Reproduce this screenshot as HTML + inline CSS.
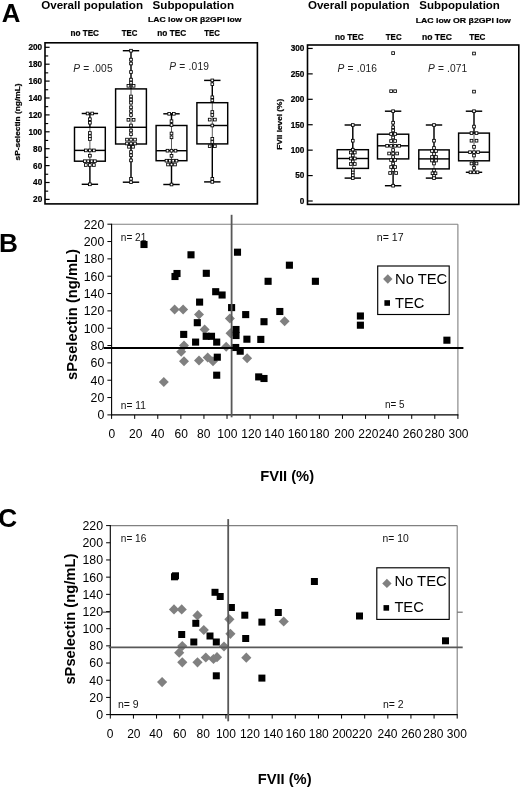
<!DOCTYPE html>
<html lang="en"><head><meta charset="utf-8"><title>Figure: sP-selectin and FVII levels</title>
<style>html,body{margin:0;padding:0;background:#fff}svg{display:block}text{font-family:'Liberation Sans', Arial, Helvetica, sans-serif}</style></head><body>
<svg width="520" height="788" viewBox="0 0 520 788">
<rect width="520" height="788" fill="#fff"/>
<text x="1.70" y="22.40" font-size="25.8" text-anchor="start" fill="#000" font-weight="bold">A</text>
<rect x="45.00" y="42.80" width="212.40" height="161.10" fill="none" stroke="#000" stroke-width="1.6"/>
<line x1="45.00" y1="199.40" x2="49.60" y2="199.40" stroke="#000" stroke-width="1.2" stroke-linecap="butt"/>
<text x="42.20" y="202.30" font-size="8.2" text-anchor="end" fill="#000" font-weight="bold" stroke="#000" stroke-width="0.2">20</text>
<line x1="45.00" y1="182.50" x2="49.60" y2="182.50" stroke="#000" stroke-width="1.2" stroke-linecap="butt"/>
<text x="42.20" y="185.40" font-size="8.2" text-anchor="end" fill="#000" font-weight="bold" stroke="#000" stroke-width="0.2">40</text>
<line x1="45.00" y1="165.60" x2="49.60" y2="165.60" stroke="#000" stroke-width="1.2" stroke-linecap="butt"/>
<text x="42.20" y="168.50" font-size="8.2" text-anchor="end" fill="#000" font-weight="bold" stroke="#000" stroke-width="0.2">60</text>
<line x1="45.00" y1="148.70" x2="49.60" y2="148.70" stroke="#000" stroke-width="1.2" stroke-linecap="butt"/>
<text x="42.20" y="151.60" font-size="8.2" text-anchor="end" fill="#000" font-weight="bold" stroke="#000" stroke-width="0.2">80</text>
<line x1="45.00" y1="131.80" x2="49.60" y2="131.80" stroke="#000" stroke-width="1.2" stroke-linecap="butt"/>
<text x="42.20" y="134.70" font-size="8.2" text-anchor="end" fill="#000" font-weight="bold" stroke="#000" stroke-width="0.2">100</text>
<line x1="45.00" y1="114.90" x2="49.60" y2="114.90" stroke="#000" stroke-width="1.2" stroke-linecap="butt"/>
<text x="42.20" y="117.80" font-size="8.2" text-anchor="end" fill="#000" font-weight="bold" stroke="#000" stroke-width="0.2">120</text>
<line x1="45.00" y1="98.00" x2="49.60" y2="98.00" stroke="#000" stroke-width="1.2" stroke-linecap="butt"/>
<text x="42.20" y="100.90" font-size="8.2" text-anchor="end" fill="#000" font-weight="bold" stroke="#000" stroke-width="0.2">140</text>
<line x1="45.00" y1="81.10" x2="49.60" y2="81.10" stroke="#000" stroke-width="1.2" stroke-linecap="butt"/>
<text x="42.20" y="84.00" font-size="8.2" text-anchor="end" fill="#000" font-weight="bold" stroke="#000" stroke-width="0.2">160</text>
<line x1="45.00" y1="64.20" x2="49.60" y2="64.20" stroke="#000" stroke-width="1.2" stroke-linecap="butt"/>
<text x="42.20" y="67.10" font-size="8.2" text-anchor="end" fill="#000" font-weight="bold" stroke="#000" stroke-width="0.2">180</text>
<line x1="45.00" y1="47.30" x2="49.60" y2="47.30" stroke="#000" stroke-width="1.2" stroke-linecap="butt"/>
<text x="42.20" y="50.20" font-size="8.2" text-anchor="end" fill="#000" font-weight="bold" stroke="#000" stroke-width="0.2">200</text>
<line x1="45.00" y1="191.15" x2="48.20" y2="191.15" stroke="#000" stroke-width="1.15" stroke-linecap="butt"/>
<line x1="45.00" y1="174.25" x2="48.20" y2="174.25" stroke="#000" stroke-width="1.15" stroke-linecap="butt"/>
<line x1="45.00" y1="157.35" x2="48.20" y2="157.35" stroke="#000" stroke-width="1.15" stroke-linecap="butt"/>
<line x1="45.00" y1="140.45" x2="48.20" y2="140.45" stroke="#000" stroke-width="1.15" stroke-linecap="butt"/>
<line x1="45.00" y1="123.55" x2="48.20" y2="123.55" stroke="#000" stroke-width="1.15" stroke-linecap="butt"/>
<line x1="45.00" y1="106.65" x2="48.20" y2="106.65" stroke="#000" stroke-width="1.15" stroke-linecap="butt"/>
<line x1="45.00" y1="89.75" x2="48.20" y2="89.75" stroke="#000" stroke-width="1.15" stroke-linecap="butt"/>
<line x1="45.00" y1="72.85" x2="48.20" y2="72.85" stroke="#000" stroke-width="1.15" stroke-linecap="butt"/>
<line x1="45.00" y1="55.95" x2="48.20" y2="55.95" stroke="#000" stroke-width="1.15" stroke-linecap="butt"/>
<text x="20.20" y="160.40" font-size="7.6" text-anchor="start" fill="#000" font-weight="bold" textLength="77.00" lengthAdjust="spacingAndGlyphs" transform="rotate(-90 20.20 160.40)" stroke="#000" stroke-width="0.22">sP-selectin (ng/mL)</text>
<text x="41.20" y="9.10" font-size="11.3" text-anchor="start" fill="#000" font-weight="bold" textLength="101.80" lengthAdjust="spacingAndGlyphs">Overall population</text>
<text x="152.50" y="9.10" font-size="11.3" text-anchor="start" fill="#000" font-weight="bold" textLength="81.50" lengthAdjust="spacingAndGlyphs">Subpopulation</text>
<text x="148.10" y="21.60" font-size="8" text-anchor="start" fill="#000" font-weight="bold" textLength="93.40" lengthAdjust="spacingAndGlyphs" stroke="#000" stroke-width="0.22">LAC low OR β2GPI  low</text>
<text x="70.40" y="36.00" font-size="8.7" text-anchor="start" fill="#000" font-weight="bold" textLength="28.60" lengthAdjust="spacingAndGlyphs" stroke="#000" stroke-width="0.22">no TEC</text>
<text x="121.80" y="36.00" font-size="8.7" text-anchor="start" fill="#000" font-weight="bold" textLength="15.60" lengthAdjust="spacingAndGlyphs" stroke="#000" stroke-width="0.22">TEC</text>
<text x="157.30" y="36.00" font-size="8.7" text-anchor="start" fill="#000" font-weight="bold" textLength="28.90" lengthAdjust="spacingAndGlyphs" stroke="#000" stroke-width="0.22">no TEC</text>
<text x="204.20" y="36.00" font-size="8.7" text-anchor="start" fill="#000" font-weight="bold" textLength="15.60" lengthAdjust="spacingAndGlyphs" stroke="#000" stroke-width="0.22">TEC</text>
<text x="73.2" y="71.6" font-size="10.2" fill="#222" textLength="39.4" lengthAdjust="spacing"><tspan font-style="italic">P</tspan> = .005</text>
<text x="169.2" y="69.6" font-size="10.2" fill="#222" textLength="39.8" lengthAdjust="spacing"><tspan font-style="italic">P</tspan> = .019</text>
<line x1="89.90" y1="113.50" x2="89.90" y2="127.30" stroke="#000" stroke-width="1.45" stroke-linecap="butt"/>
<line x1="89.90" y1="161.20" x2="89.90" y2="184.30" stroke="#000" stroke-width="1.45" stroke-linecap="butt"/>
<line x1="81.70" y1="113.50" x2="98.10" y2="113.50" stroke="#000" stroke-width="1.45" stroke-linecap="butt"/>
<line x1="81.70" y1="184.30" x2="98.10" y2="184.30" stroke="#000" stroke-width="1.45" stroke-linecap="butt"/>
<line x1="89.90" y1="127.30" x2="89.90" y2="161.20" stroke="#333" stroke-width="0.8" stroke-linecap="butt"/>
<rect x="74.50" y="127.30" width="30.80" height="33.90" fill="none" stroke="#000" stroke-width="1.45"/>
<line x1="74.50" y1="150.40" x2="105.30" y2="150.40" stroke="#000" stroke-width="1.45" stroke-linecap="butt"/>
<line x1="131.00" y1="50.70" x2="131.00" y2="88.90" stroke="#000" stroke-width="1.45" stroke-linecap="butt"/>
<line x1="131.00" y1="144.00" x2="131.00" y2="182.20" stroke="#000" stroke-width="1.45" stroke-linecap="butt"/>
<line x1="122.80" y1="50.70" x2="139.20" y2="50.70" stroke="#000" stroke-width="1.45" stroke-linecap="butt"/>
<line x1="122.80" y1="182.20" x2="139.20" y2="182.20" stroke="#000" stroke-width="1.45" stroke-linecap="butt"/>
<line x1="131.00" y1="88.90" x2="131.00" y2="144.00" stroke="#333" stroke-width="0.8" stroke-linecap="butt"/>
<rect x="115.60" y="88.90" width="30.80" height="55.10" fill="none" stroke="#000" stroke-width="1.45"/>
<line x1="115.60" y1="127.30" x2="146.40" y2="127.30" stroke="#000" stroke-width="1.45" stroke-linecap="butt"/>
<line x1="171.50" y1="113.80" x2="171.50" y2="125.50" stroke="#000" stroke-width="1.45" stroke-linecap="butt"/>
<line x1="171.50" y1="160.70" x2="171.50" y2="184.50" stroke="#000" stroke-width="1.45" stroke-linecap="butt"/>
<line x1="163.30" y1="113.80" x2="179.70" y2="113.80" stroke="#000" stroke-width="1.45" stroke-linecap="butt"/>
<line x1="163.30" y1="184.50" x2="179.70" y2="184.50" stroke="#000" stroke-width="1.45" stroke-linecap="butt"/>
<line x1="171.50" y1="125.50" x2="171.50" y2="160.70" stroke="#333" stroke-width="0.8" stroke-linecap="butt"/>
<rect x="156.10" y="125.50" width="30.80" height="35.20" fill="none" stroke="#000" stroke-width="1.45"/>
<line x1="156.10" y1="150.70" x2="186.90" y2="150.70" stroke="#000" stroke-width="1.45" stroke-linecap="butt"/>
<line x1="212.30" y1="80.40" x2="212.30" y2="102.70" stroke="#000" stroke-width="1.45" stroke-linecap="butt"/>
<line x1="212.30" y1="143.90" x2="212.30" y2="181.90" stroke="#000" stroke-width="1.45" stroke-linecap="butt"/>
<line x1="204.10" y1="80.40" x2="220.50" y2="80.40" stroke="#000" stroke-width="1.45" stroke-linecap="butt"/>
<line x1="204.10" y1="181.90" x2="220.50" y2="181.90" stroke="#000" stroke-width="1.45" stroke-linecap="butt"/>
<line x1="212.30" y1="102.70" x2="212.30" y2="143.90" stroke="#333" stroke-width="0.8" stroke-linecap="butt"/>
<rect x="196.90" y="102.70" width="30.80" height="41.20" fill="none" stroke="#000" stroke-width="1.45"/>
<line x1="196.90" y1="125.50" x2="227.70" y2="125.50" stroke="#000" stroke-width="1.45" stroke-linecap="butt"/>
<rect x="86.25" y="112.15" width="2.70" height="2.70" fill="#fff" stroke="#000" stroke-width="0.85"/>
<rect x="90.85" y="112.15" width="2.70" height="2.70" fill="#fff" stroke="#000" stroke-width="0.85"/>
<rect x="88.55" y="117.85" width="2.70" height="2.70" fill="#fff" stroke="#000" stroke-width="0.85"/>
<rect x="88.55" y="121.35" width="2.70" height="2.70" fill="#fff" stroke="#000" stroke-width="0.85"/>
<rect x="88.55" y="131.65" width="2.70" height="2.70" fill="#fff" stroke="#000" stroke-width="0.85"/>
<rect x="88.55" y="134.95" width="2.70" height="2.70" fill="#fff" stroke="#000" stroke-width="0.85"/>
<rect x="88.55" y="137.65" width="2.70" height="2.70" fill="#fff" stroke="#000" stroke-width="0.85"/>
<rect x="84.55" y="149.05" width="2.70" height="2.70" fill="#fff" stroke="#000" stroke-width="0.85"/>
<rect x="88.55" y="149.05" width="2.70" height="2.70" fill="#fff" stroke="#000" stroke-width="0.85"/>
<rect x="92.55" y="149.05" width="2.70" height="2.70" fill="#fff" stroke="#000" stroke-width="0.85"/>
<rect x="88.55" y="154.35" width="2.70" height="2.70" fill="#fff" stroke="#000" stroke-width="0.85"/>
<rect x="83.55" y="159.85" width="2.70" height="2.70" fill="#fff" stroke="#000" stroke-width="0.85"/>
<rect x="86.85" y="159.85" width="2.70" height="2.70" fill="#fff" stroke="#000" stroke-width="0.85"/>
<rect x="90.25" y="159.85" width="2.70" height="2.70" fill="#fff" stroke="#000" stroke-width="0.85"/>
<rect x="93.55" y="159.85" width="2.70" height="2.70" fill="#fff" stroke="#000" stroke-width="0.85"/>
<rect x="84.55" y="163.65" width="2.70" height="2.70" fill="#fff" stroke="#000" stroke-width="0.85"/>
<rect x="88.55" y="163.65" width="2.70" height="2.70" fill="#fff" stroke="#000" stroke-width="0.85"/>
<rect x="92.55" y="163.65" width="2.70" height="2.70" fill="#fff" stroke="#000" stroke-width="0.85"/>
<rect x="88.55" y="182.95" width="2.70" height="2.70" fill="#fff" stroke="#000" stroke-width="0.85"/>
<rect x="129.65" y="49.35" width="2.70" height="2.70" fill="#fff" stroke="#000" stroke-width="0.85"/>
<rect x="129.65" y="58.25" width="2.70" height="2.70" fill="#fff" stroke="#000" stroke-width="0.85"/>
<rect x="129.65" y="62.15" width="2.70" height="2.70" fill="#fff" stroke="#000" stroke-width="0.85"/>
<rect x="129.65" y="70.65" width="2.70" height="2.70" fill="#fff" stroke="#000" stroke-width="0.85"/>
<rect x="129.65" y="78.25" width="2.70" height="2.70" fill="#fff" stroke="#000" stroke-width="0.85"/>
<rect x="129.65" y="81.35" width="2.70" height="2.70" fill="#fff" stroke="#000" stroke-width="0.85"/>
<rect x="127.05" y="84.45" width="2.70" height="2.70" fill="#fff" stroke="#000" stroke-width="0.85"/>
<rect x="132.25" y="84.45" width="2.70" height="2.70" fill="#fff" stroke="#000" stroke-width="0.85"/>
<rect x="129.65" y="95.15" width="2.70" height="2.70" fill="#fff" stroke="#000" stroke-width="0.85"/>
<rect x="129.65" y="98.25" width="2.70" height="2.70" fill="#fff" stroke="#000" stroke-width="0.85"/>
<rect x="129.65" y="101.35" width="2.70" height="2.70" fill="#fff" stroke="#000" stroke-width="0.85"/>
<rect x="129.65" y="105.95" width="2.70" height="2.70" fill="#fff" stroke="#000" stroke-width="0.85"/>
<rect x="129.65" y="109.85" width="2.70" height="2.70" fill="#fff" stroke="#000" stroke-width="0.85"/>
<rect x="129.65" y="113.65" width="2.70" height="2.70" fill="#fff" stroke="#000" stroke-width="0.85"/>
<rect x="127.05" y="118.45" width="2.70" height="2.70" fill="#fff" stroke="#000" stroke-width="0.85"/>
<rect x="132.25" y="118.45" width="2.70" height="2.70" fill="#fff" stroke="#000" stroke-width="0.85"/>
<rect x="129.65" y="124.15" width="2.70" height="2.70" fill="#fff" stroke="#000" stroke-width="0.85"/>
<rect x="129.65" y="129.05" width="2.70" height="2.70" fill="#fff" stroke="#000" stroke-width="0.85"/>
<rect x="129.65" y="132.85" width="2.70" height="2.70" fill="#fff" stroke="#000" stroke-width="0.85"/>
<rect x="125.65" y="138.25" width="2.70" height="2.70" fill="#fff" stroke="#000" stroke-width="0.85"/>
<rect x="129.65" y="138.25" width="2.70" height="2.70" fill="#fff" stroke="#000" stroke-width="0.85"/>
<rect x="133.65" y="138.25" width="2.70" height="2.70" fill="#fff" stroke="#000" stroke-width="0.85"/>
<rect x="125.65" y="142.15" width="2.70" height="2.70" fill="#fff" stroke="#000" stroke-width="0.85"/>
<rect x="129.65" y="142.15" width="2.70" height="2.70" fill="#fff" stroke="#000" stroke-width="0.85"/>
<rect x="133.65" y="142.15" width="2.70" height="2.70" fill="#fff" stroke="#000" stroke-width="0.85"/>
<rect x="127.65" y="145.45" width="2.70" height="2.70" fill="#fff" stroke="#000" stroke-width="0.85"/>
<rect x="131.65" y="145.45" width="2.70" height="2.70" fill="#fff" stroke="#000" stroke-width="0.85"/>
<rect x="129.65" y="150.65" width="2.70" height="2.70" fill="#fff" stroke="#000" stroke-width="0.85"/>
<rect x="129.65" y="153.95" width="2.70" height="2.70" fill="#fff" stroke="#000" stroke-width="0.85"/>
<rect x="129.65" y="159.05" width="2.70" height="2.70" fill="#fff" stroke="#000" stroke-width="0.85"/>
<rect x="129.65" y="177.45" width="2.70" height="2.70" fill="#fff" stroke="#000" stroke-width="0.85"/>
<rect x="129.65" y="180.85" width="2.70" height="2.70" fill="#fff" stroke="#000" stroke-width="0.85"/>
<rect x="167.85" y="112.45" width="2.70" height="2.70" fill="#fff" stroke="#000" stroke-width="0.85"/>
<rect x="172.45" y="112.45" width="2.70" height="2.70" fill="#fff" stroke="#000" stroke-width="0.85"/>
<rect x="170.15" y="119.85" width="2.70" height="2.70" fill="#fff" stroke="#000" stroke-width="0.85"/>
<rect x="170.15" y="123.65" width="2.70" height="2.70" fill="#fff" stroke="#000" stroke-width="0.85"/>
<rect x="170.15" y="132.15" width="2.70" height="2.70" fill="#fff" stroke="#000" stroke-width="0.85"/>
<rect x="170.15" y="135.95" width="2.70" height="2.70" fill="#fff" stroke="#000" stroke-width="0.85"/>
<rect x="166.15" y="149.35" width="2.70" height="2.70" fill="#fff" stroke="#000" stroke-width="0.85"/>
<rect x="170.15" y="149.35" width="2.70" height="2.70" fill="#fff" stroke="#000" stroke-width="0.85"/>
<rect x="174.15" y="149.35" width="2.70" height="2.70" fill="#fff" stroke="#000" stroke-width="0.85"/>
<rect x="170.15" y="154.45" width="2.70" height="2.70" fill="#fff" stroke="#000" stroke-width="0.85"/>
<rect x="165.15" y="159.35" width="2.70" height="2.70" fill="#fff" stroke="#000" stroke-width="0.85"/>
<rect x="168.45" y="159.35" width="2.70" height="2.70" fill="#fff" stroke="#000" stroke-width="0.85"/>
<rect x="171.85" y="159.35" width="2.70" height="2.70" fill="#fff" stroke="#000" stroke-width="0.85"/>
<rect x="175.15" y="159.35" width="2.70" height="2.70" fill="#fff" stroke="#000" stroke-width="0.85"/>
<rect x="166.65" y="163.15" width="2.70" height="2.70" fill="#fff" stroke="#000" stroke-width="0.85"/>
<rect x="170.15" y="163.15" width="2.70" height="2.70" fill="#fff" stroke="#000" stroke-width="0.85"/>
<rect x="173.65" y="163.15" width="2.70" height="2.70" fill="#fff" stroke="#000" stroke-width="0.85"/>
<rect x="170.15" y="183.15" width="2.70" height="2.70" fill="#fff" stroke="#000" stroke-width="0.85"/>
<rect x="210.95" y="79.05" width="2.70" height="2.70" fill="#fff" stroke="#000" stroke-width="0.85"/>
<rect x="210.95" y="82.85" width="2.70" height="2.70" fill="#fff" stroke="#000" stroke-width="0.85"/>
<rect x="210.95" y="95.95" width="2.70" height="2.70" fill="#fff" stroke="#000" stroke-width="0.85"/>
<rect x="210.95" y="99.05" width="2.70" height="2.70" fill="#fff" stroke="#000" stroke-width="0.85"/>
<rect x="210.95" y="110.65" width="2.70" height="2.70" fill="#fff" stroke="#000" stroke-width="0.85"/>
<rect x="210.95" y="113.65" width="2.70" height="2.70" fill="#fff" stroke="#000" stroke-width="0.85"/>
<rect x="208.35" y="118.25" width="2.70" height="2.70" fill="#fff" stroke="#000" stroke-width="0.85"/>
<rect x="213.55" y="118.25" width="2.70" height="2.70" fill="#fff" stroke="#000" stroke-width="0.85"/>
<rect x="210.95" y="124.15" width="2.70" height="2.70" fill="#fff" stroke="#000" stroke-width="0.85"/>
<rect x="210.95" y="137.45" width="2.70" height="2.70" fill="#fff" stroke="#000" stroke-width="0.85"/>
<rect x="210.95" y="140.65" width="2.70" height="2.70" fill="#fff" stroke="#000" stroke-width="0.85"/>
<rect x="208.35" y="144.85" width="2.70" height="2.70" fill="#fff" stroke="#000" stroke-width="0.85"/>
<rect x="213.55" y="144.85" width="2.70" height="2.70" fill="#fff" stroke="#000" stroke-width="0.85"/>
<rect x="210.95" y="177.45" width="2.70" height="2.70" fill="#fff" stroke="#000" stroke-width="0.85"/>
<rect x="210.95" y="180.55" width="2.70" height="2.70" fill="#fff" stroke="#000" stroke-width="0.85"/>
<rect x="307.50" y="45.00" width="211.30" height="159.40" fill="none" stroke="#000" stroke-width="1.6"/>
<line x1="307.50" y1="201.00" x2="312.70" y2="201.00" stroke="#000" stroke-width="1.2" stroke-linecap="butt"/>
<text x="304.40" y="203.90" font-size="8.2" text-anchor="end" fill="#000" font-weight="bold" stroke="#000" stroke-width="0.2">0</text>
<line x1="307.50" y1="175.57" x2="312.70" y2="175.57" stroke="#000" stroke-width="1.2" stroke-linecap="butt"/>
<text x="304.40" y="178.47" font-size="8.2" text-anchor="end" fill="#000" font-weight="bold" stroke="#000" stroke-width="0.2">50</text>
<line x1="307.50" y1="150.15" x2="312.70" y2="150.15" stroke="#000" stroke-width="1.2" stroke-linecap="butt"/>
<text x="304.40" y="153.05" font-size="8.2" text-anchor="end" fill="#000" font-weight="bold" stroke="#000" stroke-width="0.2">100</text>
<line x1="307.50" y1="124.73" x2="312.70" y2="124.73" stroke="#000" stroke-width="1.2" stroke-linecap="butt"/>
<text x="304.40" y="127.63" font-size="8.2" text-anchor="end" fill="#000" font-weight="bold" stroke="#000" stroke-width="0.2">150</text>
<line x1="307.50" y1="99.30" x2="312.70" y2="99.30" stroke="#000" stroke-width="1.2" stroke-linecap="butt"/>
<text x="304.40" y="102.20" font-size="8.2" text-anchor="end" fill="#000" font-weight="bold" stroke="#000" stroke-width="0.2">200</text>
<line x1="307.50" y1="73.88" x2="312.70" y2="73.88" stroke="#000" stroke-width="1.2" stroke-linecap="butt"/>
<text x="304.40" y="76.78" font-size="8.2" text-anchor="end" fill="#000" font-weight="bold" stroke="#000" stroke-width="0.2">250</text>
<line x1="307.50" y1="48.45" x2="312.70" y2="48.45" stroke="#000" stroke-width="1.2" stroke-linecap="butt"/>
<text x="304.40" y="51.35" font-size="8.2" text-anchor="end" fill="#000" font-weight="bold" stroke="#000" stroke-width="0.2">300</text>
<text x="281.70" y="149.80" font-size="7.8" text-anchor="start" fill="#000" font-weight="bold" textLength="51.00" lengthAdjust="spacingAndGlyphs" transform="rotate(-90 281.70 149.80)" stroke="#000" stroke-width="0.22">FVII level (%)</text>
<text x="307.90" y="8.60" font-size="11.3" text-anchor="start" fill="#000" font-weight="bold" textLength="101.60" lengthAdjust="spacingAndGlyphs">Overall population</text>
<text x="419.30" y="8.60" font-size="11.3" text-anchor="start" fill="#000" font-weight="bold" textLength="80.60" lengthAdjust="spacingAndGlyphs">Subpopulation</text>
<text x="415.70" y="22.70" font-size="8" text-anchor="start" fill="#000" font-weight="bold" textLength="95.10" lengthAdjust="spacingAndGlyphs" stroke="#000" stroke-width="0.22">LAC low OR β2GPI  low</text>
<text x="335.00" y="39.80" font-size="8.7" text-anchor="start" fill="#000" font-weight="bold" textLength="28.80" lengthAdjust="spacingAndGlyphs" stroke="#000" stroke-width="0.22">no TEC</text>
<text x="385.80" y="39.80" font-size="8.7" text-anchor="start" fill="#000" font-weight="bold" textLength="15.80" lengthAdjust="spacingAndGlyphs" stroke="#000" stroke-width="0.22">TEC</text>
<text x="421.90" y="39.80" font-size="8.7" text-anchor="start" fill="#000" font-weight="bold" textLength="30.00" lengthAdjust="spacingAndGlyphs" stroke="#000" stroke-width="0.22">no TEC</text>
<text x="469.20" y="39.80" font-size="8.7" text-anchor="start" fill="#000" font-weight="bold" textLength="16.20" lengthAdjust="spacingAndGlyphs" stroke="#000" stroke-width="0.22">TEC</text>
<text x="337.5" y="71.6" font-size="10.2" fill="#222" textLength="39.5" lengthAdjust="spacing"><tspan font-style="italic">P</tspan> = .016</text>
<text x="428.0" y="71.6" font-size="10.2" fill="#222" textLength="39.2" lengthAdjust="spacing"><tspan font-style="italic">P</tspan> = .071</text>
<line x1="352.80" y1="125.00" x2="352.80" y2="149.70" stroke="#000" stroke-width="1.45" stroke-linecap="butt"/>
<line x1="352.80" y1="168.40" x2="352.80" y2="178.10" stroke="#000" stroke-width="1.45" stroke-linecap="butt"/>
<line x1="344.60" y1="125.00" x2="361.00" y2="125.00" stroke="#000" stroke-width="1.45" stroke-linecap="butt"/>
<line x1="344.60" y1="178.10" x2="361.00" y2="178.10" stroke="#000" stroke-width="1.45" stroke-linecap="butt"/>
<line x1="352.80" y1="149.70" x2="352.80" y2="168.40" stroke="#333" stroke-width="0.8" stroke-linecap="butt"/>
<rect x="337.20" y="149.70" width="31.20" height="18.70" fill="none" stroke="#000" stroke-width="1.45"/>
<line x1="337.20" y1="158.50" x2="368.40" y2="158.50" stroke="#000" stroke-width="1.45" stroke-linecap="butt"/>
<line x1="393.10" y1="111.20" x2="393.10" y2="134.20" stroke="#000" stroke-width="1.45" stroke-linecap="butt"/>
<line x1="393.10" y1="158.90" x2="393.10" y2="185.70" stroke="#000" stroke-width="1.45" stroke-linecap="butt"/>
<line x1="384.90" y1="111.20" x2="401.30" y2="111.20" stroke="#000" stroke-width="1.45" stroke-linecap="butt"/>
<line x1="384.90" y1="185.70" x2="401.30" y2="185.70" stroke="#000" stroke-width="1.45" stroke-linecap="butt"/>
<line x1="393.10" y1="134.20" x2="393.10" y2="158.90" stroke="#333" stroke-width="0.8" stroke-linecap="butt"/>
<rect x="377.50" y="134.20" width="31.20" height="24.70" fill="none" stroke="#000" stroke-width="1.45"/>
<line x1="377.50" y1="145.80" x2="408.70" y2="145.80" stroke="#000" stroke-width="1.45" stroke-linecap="butt"/>
<line x1="434.00" y1="125.00" x2="434.00" y2="149.90" stroke="#000" stroke-width="1.45" stroke-linecap="butt"/>
<line x1="434.00" y1="168.90" x2="434.00" y2="178.10" stroke="#000" stroke-width="1.45" stroke-linecap="butt"/>
<line x1="425.80" y1="125.00" x2="442.20" y2="125.00" stroke="#000" stroke-width="1.45" stroke-linecap="butt"/>
<line x1="425.80" y1="178.10" x2="442.20" y2="178.10" stroke="#000" stroke-width="1.45" stroke-linecap="butt"/>
<line x1="434.00" y1="149.90" x2="434.00" y2="168.90" stroke="#333" stroke-width="0.8" stroke-linecap="butt"/>
<rect x="418.80" y="149.90" width="30.40" height="19.00" fill="none" stroke="#000" stroke-width="1.45"/>
<line x1="418.80" y1="158.90" x2="449.20" y2="158.90" stroke="#000" stroke-width="1.45" stroke-linecap="butt"/>
<line x1="474.00" y1="111.20" x2="474.00" y2="133.10" stroke="#000" stroke-width="1.45" stroke-linecap="butt"/>
<line x1="474.00" y1="160.80" x2="474.00" y2="172.30" stroke="#000" stroke-width="1.45" stroke-linecap="butt"/>
<line x1="465.80" y1="111.20" x2="482.20" y2="111.20" stroke="#000" stroke-width="1.45" stroke-linecap="butt"/>
<line x1="465.80" y1="172.30" x2="482.20" y2="172.30" stroke="#000" stroke-width="1.45" stroke-linecap="butt"/>
<line x1="474.00" y1="133.10" x2="474.00" y2="160.80" stroke="#333" stroke-width="0.8" stroke-linecap="butt"/>
<rect x="458.60" y="133.10" width="30.80" height="27.70" fill="none" stroke="#000" stroke-width="1.45"/>
<line x1="458.60" y1="152.20" x2="489.40" y2="152.20" stroke="#000" stroke-width="1.45" stroke-linecap="butt"/>
<rect x="351.45" y="123.65" width="2.70" height="2.70" fill="#fff" stroke="#000" stroke-width="0.85"/>
<rect x="351.45" y="139.35" width="2.70" height="2.70" fill="#fff" stroke="#000" stroke-width="0.85"/>
<rect x="351.45" y="148.35" width="2.70" height="2.70" fill="#fff" stroke="#000" stroke-width="0.85"/>
<rect x="349.45" y="151.15" width="2.70" height="2.70" fill="#fff" stroke="#000" stroke-width="0.85"/>
<rect x="353.45" y="151.15" width="2.70" height="2.70" fill="#fff" stroke="#000" stroke-width="0.85"/>
<rect x="351.45" y="154.15" width="2.70" height="2.70" fill="#fff" stroke="#000" stroke-width="0.85"/>
<rect x="349.45" y="157.15" width="2.70" height="2.70" fill="#fff" stroke="#000" stroke-width="0.85"/>
<rect x="353.45" y="157.15" width="2.70" height="2.70" fill="#fff" stroke="#000" stroke-width="0.85"/>
<rect x="351.45" y="160.15" width="2.70" height="2.70" fill="#fff" stroke="#000" stroke-width="0.85"/>
<rect x="349.45" y="162.65" width="2.70" height="2.70" fill="#fff" stroke="#000" stroke-width="0.85"/>
<rect x="353.45" y="162.65" width="2.70" height="2.70" fill="#fff" stroke="#000" stroke-width="0.85"/>
<rect x="351.45" y="168.65" width="2.70" height="2.70" fill="#fff" stroke="#000" stroke-width="0.85"/>
<rect x="351.45" y="171.15" width="2.70" height="2.70" fill="#fff" stroke="#000" stroke-width="0.85"/>
<rect x="351.45" y="173.95" width="2.70" height="2.70" fill="#fff" stroke="#000" stroke-width="0.85"/>
<rect x="351.45" y="176.75" width="2.70" height="2.70" fill="#fff" stroke="#000" stroke-width="0.85"/>
<rect x="391.75" y="51.75" width="2.70" height="2.70" fill="#fff" stroke="#000" stroke-width="0.85"/>
<rect x="389.75" y="89.85" width="2.70" height="2.70" fill="#fff" stroke="#000" stroke-width="0.85"/>
<rect x="393.75" y="89.85" width="2.70" height="2.70" fill="#fff" stroke="#000" stroke-width="0.85"/>
<rect x="391.75" y="109.85" width="2.70" height="2.70" fill="#fff" stroke="#000" stroke-width="0.85"/>
<rect x="391.75" y="121.35" width="2.70" height="2.70" fill="#fff" stroke="#000" stroke-width="0.85"/>
<rect x="391.75" y="125.95" width="2.70" height="2.70" fill="#fff" stroke="#000" stroke-width="0.85"/>
<rect x="391.75" y="129.15" width="2.70" height="2.70" fill="#fff" stroke="#000" stroke-width="0.85"/>
<rect x="389.75" y="132.65" width="2.70" height="2.70" fill="#fff" stroke="#000" stroke-width="0.85"/>
<rect x="393.75" y="132.65" width="2.70" height="2.70" fill="#fff" stroke="#000" stroke-width="0.85"/>
<rect x="391.75" y="136.15" width="2.70" height="2.70" fill="#fff" stroke="#000" stroke-width="0.85"/>
<rect x="389.75" y="139.65" width="2.70" height="2.70" fill="#fff" stroke="#000" stroke-width="0.85"/>
<rect x="393.75" y="139.65" width="2.70" height="2.70" fill="#fff" stroke="#000" stroke-width="0.85"/>
<rect x="385.75" y="144.45" width="2.70" height="2.70" fill="#fff" stroke="#000" stroke-width="0.85"/>
<rect x="389.75" y="144.45" width="2.70" height="2.70" fill="#fff" stroke="#000" stroke-width="0.85"/>
<rect x="393.75" y="144.45" width="2.70" height="2.70" fill="#fff" stroke="#000" stroke-width="0.85"/>
<rect x="397.75" y="144.45" width="2.70" height="2.70" fill="#fff" stroke="#000" stroke-width="0.85"/>
<rect x="391.75" y="148.65" width="2.70" height="2.70" fill="#fff" stroke="#000" stroke-width="0.85"/>
<rect x="387.75" y="152.15" width="2.70" height="2.70" fill="#fff" stroke="#000" stroke-width="0.85"/>
<rect x="391.75" y="152.15" width="2.70" height="2.70" fill="#fff" stroke="#000" stroke-width="0.85"/>
<rect x="395.75" y="152.15" width="2.70" height="2.70" fill="#fff" stroke="#000" stroke-width="0.85"/>
<rect x="391.75" y="155.65" width="2.70" height="2.70" fill="#fff" stroke="#000" stroke-width="0.85"/>
<rect x="389.75" y="158.65" width="2.70" height="2.70" fill="#fff" stroke="#000" stroke-width="0.85"/>
<rect x="393.75" y="158.65" width="2.70" height="2.70" fill="#fff" stroke="#000" stroke-width="0.85"/>
<rect x="391.75" y="162.15" width="2.70" height="2.70" fill="#fff" stroke="#000" stroke-width="0.85"/>
<rect x="389.75" y="165.65" width="2.70" height="2.70" fill="#fff" stroke="#000" stroke-width="0.85"/>
<rect x="393.75" y="165.65" width="2.70" height="2.70" fill="#fff" stroke="#000" stroke-width="0.85"/>
<rect x="391.75" y="168.65" width="2.70" height="2.70" fill="#fff" stroke="#000" stroke-width="0.85"/>
<rect x="388.75" y="171.65" width="2.70" height="2.70" fill="#fff" stroke="#000" stroke-width="0.85"/>
<rect x="394.75" y="171.65" width="2.70" height="2.70" fill="#fff" stroke="#000" stroke-width="0.85"/>
<rect x="391.75" y="184.35" width="2.70" height="2.70" fill="#fff" stroke="#000" stroke-width="0.85"/>
<rect x="432.65" y="123.65" width="2.70" height="2.70" fill="#fff" stroke="#000" stroke-width="0.85"/>
<rect x="432.65" y="139.35" width="2.70" height="2.70" fill="#fff" stroke="#000" stroke-width="0.85"/>
<rect x="432.65" y="146.65" width="2.70" height="2.70" fill="#fff" stroke="#000" stroke-width="0.85"/>
<rect x="430.65" y="149.65" width="2.70" height="2.70" fill="#fff" stroke="#000" stroke-width="0.85"/>
<rect x="434.65" y="149.65" width="2.70" height="2.70" fill="#fff" stroke="#000" stroke-width="0.85"/>
<rect x="432.65" y="152.65" width="2.70" height="2.70" fill="#fff" stroke="#000" stroke-width="0.85"/>
<rect x="430.65" y="155.65" width="2.70" height="2.70" fill="#fff" stroke="#000" stroke-width="0.85"/>
<rect x="434.65" y="155.65" width="2.70" height="2.70" fill="#fff" stroke="#000" stroke-width="0.85"/>
<rect x="430.65" y="159.15" width="2.70" height="2.70" fill="#fff" stroke="#000" stroke-width="0.85"/>
<rect x="434.65" y="159.15" width="2.70" height="2.70" fill="#fff" stroke="#000" stroke-width="0.85"/>
<rect x="432.65" y="162.15" width="2.70" height="2.70" fill="#fff" stroke="#000" stroke-width="0.85"/>
<rect x="432.65" y="169.15" width="2.70" height="2.70" fill="#fff" stroke="#000" stroke-width="0.85"/>
<rect x="431.15" y="171.95" width="2.70" height="2.70" fill="#fff" stroke="#000" stroke-width="0.85"/>
<rect x="434.15" y="171.95" width="2.70" height="2.70" fill="#fff" stroke="#000" stroke-width="0.85"/>
<rect x="432.65" y="174.65" width="2.70" height="2.70" fill="#fff" stroke="#000" stroke-width="0.85"/>
<rect x="432.65" y="176.75" width="2.70" height="2.70" fill="#fff" stroke="#000" stroke-width="0.85"/>
<rect x="472.65" y="52.15" width="2.70" height="2.70" fill="#fff" stroke="#000" stroke-width="0.85"/>
<rect x="472.65" y="90.25" width="2.70" height="2.70" fill="#fff" stroke="#000" stroke-width="0.85"/>
<rect x="472.65" y="109.85" width="2.70" height="2.70" fill="#fff" stroke="#000" stroke-width="0.85"/>
<rect x="472.65" y="125.25" width="2.70" height="2.70" fill="#fff" stroke="#000" stroke-width="0.85"/>
<rect x="470.15" y="131.75" width="2.70" height="2.70" fill="#fff" stroke="#000" stroke-width="0.85"/>
<rect x="475.15" y="131.75" width="2.70" height="2.70" fill="#fff" stroke="#000" stroke-width="0.85"/>
<rect x="470.15" y="139.35" width="2.70" height="2.70" fill="#fff" stroke="#000" stroke-width="0.85"/>
<rect x="475.15" y="139.35" width="2.70" height="2.70" fill="#fff" stroke="#000" stroke-width="0.85"/>
<rect x="472.65" y="145.55" width="2.70" height="2.70" fill="#fff" stroke="#000" stroke-width="0.85"/>
<rect x="468.65" y="150.85" width="2.70" height="2.70" fill="#fff" stroke="#000" stroke-width="0.85"/>
<rect x="472.65" y="150.85" width="2.70" height="2.70" fill="#fff" stroke="#000" stroke-width="0.85"/>
<rect x="476.65" y="150.85" width="2.70" height="2.70" fill="#fff" stroke="#000" stroke-width="0.85"/>
<rect x="472.65" y="154.15" width="2.70" height="2.70" fill="#fff" stroke="#000" stroke-width="0.85"/>
<rect x="470.15" y="162.15" width="2.70" height="2.70" fill="#fff" stroke="#000" stroke-width="0.85"/>
<rect x="475.15" y="162.15" width="2.70" height="2.70" fill="#fff" stroke="#000" stroke-width="0.85"/>
<rect x="472.65" y="166.35" width="2.70" height="2.70" fill="#fff" stroke="#000" stroke-width="0.85"/>
<rect x="469.15" y="170.95" width="2.70" height="2.70" fill="#fff" stroke="#000" stroke-width="0.85"/>
<rect x="472.65" y="170.95" width="2.70" height="2.70" fill="#fff" stroke="#000" stroke-width="0.85"/>
<rect x="476.15" y="170.95" width="2.70" height="2.70" fill="#fff" stroke="#000" stroke-width="0.85"/>
<text x="-1.10" y="251.90" font-size="26.2" text-anchor="start" fill="#000" font-weight="bold">B</text>
<path d="M174.60 304.40L179.60 309.40L174.60 314.40L169.60 309.40Z" fill="#808080"/>
<path d="M183.10 304.40L188.10 309.40L183.10 314.40L178.10 309.40Z" fill="#808080"/>
<path d="M199.00 309.60L204.00 314.60L199.00 319.60L194.00 314.60Z" fill="#808080"/>
<path d="M229.90 313.60L234.90 318.60L229.90 323.60L224.90 318.60Z" fill="#808080"/>
<path d="M204.60 324.40L209.60 329.40L204.60 334.40L199.60 329.40Z" fill="#808080"/>
<path d="M230.50 328.30L235.50 333.30L230.50 338.30L225.50 333.30Z" fill="#808080"/>
<path d="M184.00 340.60L189.00 345.60L184.00 350.60L179.00 345.60Z" fill="#808080"/>
<path d="M226.20 341.80L231.20 346.80L226.20 351.80L221.20 346.80Z" fill="#808080"/>
<path d="M181.20 346.80L186.20 351.80L181.20 356.80L176.20 351.80Z" fill="#808080"/>
<path d="M207.70 352.60L212.70 357.60L207.70 362.60L202.70 357.60Z" fill="#808080"/>
<path d="M199.00 355.50L204.00 360.50L199.00 365.50L194.00 360.50Z" fill="#808080"/>
<path d="M184.00 356.20L189.00 361.20L184.00 366.20L179.00 361.20Z" fill="#808080"/>
<path d="M213.00 356.20L218.00 361.20L213.00 366.20L208.00 361.20Z" fill="#808080"/>
<path d="M247.10 353.30L252.10 358.30L247.10 363.30L242.10 358.30Z" fill="#808080"/>
<path d="M163.80 376.90L168.80 381.90L163.80 386.90L158.80 381.90Z" fill="#808080"/>
<path d="M284.60 316.20L289.60 321.20L284.60 326.20L279.60 321.20Z" fill="#808080"/>
<rect x="140.45" y="240.95" width="7.10" height="7.10" fill="#000" stroke="none" stroke-width="1"/>
<rect x="187.45" y="251.25" width="7.10" height="7.10" fill="#000" stroke="none" stroke-width="1"/>
<rect x="173.45" y="269.95" width="7.10" height="7.10" fill="#000" stroke="none" stroke-width="1"/>
<rect x="171.45" y="272.95" width="7.10" height="7.10" fill="#000" stroke="none" stroke-width="1"/>
<rect x="202.75" y="269.75" width="7.10" height="7.10" fill="#000" stroke="none" stroke-width="1"/>
<rect x="212.15" y="288.15" width="7.10" height="7.10" fill="#000" stroke="none" stroke-width="1"/>
<rect x="218.55" y="291.45" width="7.10" height="7.10" fill="#000" stroke="none" stroke-width="1"/>
<rect x="233.95" y="248.65" width="7.10" height="7.10" fill="#000" stroke="none" stroke-width="1"/>
<rect x="196.05" y="298.55" width="7.10" height="7.10" fill="#000" stroke="none" stroke-width="1"/>
<rect x="228.05" y="304.05" width="7.10" height="7.10" fill="#000" stroke="none" stroke-width="1"/>
<rect x="242.15" y="311.05" width="7.10" height="7.10" fill="#000" stroke="none" stroke-width="1"/>
<rect x="193.75" y="319.15" width="7.10" height="7.10" fill="#000" stroke="none" stroke-width="1"/>
<rect x="232.45" y="325.95" width="7.10" height="7.10" fill="#000" stroke="none" stroke-width="1"/>
<rect x="232.45" y="331.95" width="7.10" height="7.10" fill="#000" stroke="none" stroke-width="1"/>
<rect x="180.15" y="330.85" width="7.10" height="7.10" fill="#000" stroke="none" stroke-width="1"/>
<rect x="202.65" y="332.75" width="7.10" height="7.10" fill="#000" stroke="none" stroke-width="1"/>
<rect x="207.95" y="332.75" width="7.10" height="7.10" fill="#000" stroke="none" stroke-width="1"/>
<rect x="192.05" y="338.55" width="7.10" height="7.10" fill="#000" stroke="none" stroke-width="1"/>
<rect x="213.15" y="338.55" width="7.10" height="7.10" fill="#000" stroke="none" stroke-width="1"/>
<rect x="243.35" y="335.65" width="7.10" height="7.10" fill="#000" stroke="none" stroke-width="1"/>
<rect x="232.15" y="343.95" width="7.10" height="7.10" fill="#000" stroke="none" stroke-width="1"/>
<rect x="236.65" y="347.65" width="7.10" height="7.10" fill="#000" stroke="none" stroke-width="1"/>
<rect x="213.75" y="353.65" width="7.10" height="7.10" fill="#000" stroke="none" stroke-width="1"/>
<rect x="213.15" y="371.65" width="7.10" height="7.10" fill="#000" stroke="none" stroke-width="1"/>
<rect x="285.85" y="261.65" width="7.10" height="7.10" fill="#000" stroke="none" stroke-width="1"/>
<rect x="264.55" y="277.75" width="7.10" height="7.10" fill="#000" stroke="none" stroke-width="1"/>
<rect x="311.85" y="277.75" width="7.10" height="7.10" fill="#000" stroke="none" stroke-width="1"/>
<rect x="276.25" y="307.95" width="7.10" height="7.10" fill="#000" stroke="none" stroke-width="1"/>
<rect x="260.45" y="318.15" width="7.10" height="7.10" fill="#000" stroke="none" stroke-width="1"/>
<rect x="257.25" y="335.85" width="7.10" height="7.10" fill="#000" stroke="none" stroke-width="1"/>
<rect x="255.15" y="373.35" width="7.10" height="7.10" fill="#000" stroke="none" stroke-width="1"/>
<rect x="260.45" y="374.95" width="7.10" height="7.10" fill="#000" stroke="none" stroke-width="1"/>
<rect x="356.85" y="312.45" width="7.10" height="7.10" fill="#000" stroke="none" stroke-width="1"/>
<rect x="356.85" y="321.65" width="7.10" height="7.10" fill="#000" stroke="none" stroke-width="1"/>
<rect x="443.35" y="336.65" width="7.10" height="7.10" fill="#000" stroke="none" stroke-width="1"/>
<line x1="111.60" y1="224.20" x2="457.90" y2="224.20" stroke="#808080" stroke-width="1.1" stroke-linecap="butt"/>
<line x1="457.90" y1="224.20" x2="457.90" y2="414.90" stroke="#808080" stroke-width="1.1" stroke-linecap="butt"/>
<line x1="111.60" y1="223.70" x2="111.60" y2="415.40" stroke="#000" stroke-width="1.1" stroke-linecap="butt"/>
<line x1="111.60" y1="414.90" x2="458.40" y2="414.90" stroke="#000" stroke-width="1.1" stroke-linecap="butt"/>
<line x1="111.60" y1="414.90" x2="111.60" y2="418.90" stroke="#000" stroke-width="1.0" stroke-linecap="butt"/>
<text x="111.80" y="437.80" font-size="12" text-anchor="middle" fill="#000">0</text>
<line x1="134.69" y1="414.90" x2="134.69" y2="418.90" stroke="#000" stroke-width="1.0" stroke-linecap="butt"/>
<text x="135.79" y="437.80" font-size="12" text-anchor="middle" fill="#000">20</text>
<line x1="157.77" y1="414.90" x2="157.77" y2="418.90" stroke="#000" stroke-width="1.0" stroke-linecap="butt"/>
<text x="157.77" y="437.80" font-size="12" text-anchor="middle" fill="#000">40</text>
<line x1="180.86" y1="414.90" x2="180.86" y2="418.90" stroke="#000" stroke-width="1.0" stroke-linecap="butt"/>
<text x="181.16" y="437.80" font-size="12" text-anchor="middle" fill="#000">60</text>
<line x1="203.95" y1="414.90" x2="203.95" y2="418.90" stroke="#000" stroke-width="1.0" stroke-linecap="butt"/>
<text x="203.65" y="437.80" font-size="12" text-anchor="middle" fill="#000">80</text>
<line x1="227.03" y1="414.90" x2="227.03" y2="418.90" stroke="#000" stroke-width="1.0" stroke-linecap="butt"/>
<text x="227.33" y="437.80" font-size="12" text-anchor="middle" fill="#000">100</text>
<line x1="250.12" y1="414.90" x2="250.12" y2="418.90" stroke="#000" stroke-width="1.0" stroke-linecap="butt"/>
<text x="251.32" y="437.80" font-size="12" text-anchor="middle" fill="#000">120</text>
<line x1="273.21" y1="414.90" x2="273.21" y2="418.90" stroke="#000" stroke-width="1.0" stroke-linecap="butt"/>
<text x="274.31" y="437.80" font-size="12" text-anchor="middle" fill="#000">140</text>
<line x1="296.29" y1="414.90" x2="296.29" y2="418.90" stroke="#000" stroke-width="1.0" stroke-linecap="butt"/>
<text x="297.69" y="437.80" font-size="12" text-anchor="middle" fill="#000">160</text>
<line x1="319.38" y1="414.90" x2="319.38" y2="418.90" stroke="#000" stroke-width="1.0" stroke-linecap="butt"/>
<text x="319.38" y="437.80" font-size="12" text-anchor="middle" fill="#000">180</text>
<line x1="342.47" y1="414.90" x2="342.47" y2="418.90" stroke="#000" stroke-width="1.0" stroke-linecap="butt"/>
<text x="344.37" y="437.80" font-size="12" text-anchor="middle" fill="#000">200</text>
<line x1="365.55" y1="414.90" x2="365.55" y2="418.90" stroke="#000" stroke-width="1.0" stroke-linecap="butt"/>
<text x="368.35" y="437.80" font-size="12" text-anchor="middle" fill="#000">220</text>
<line x1="388.64" y1="414.90" x2="388.64" y2="418.90" stroke="#000" stroke-width="1.0" stroke-linecap="butt"/>
<text x="388.84" y="437.80" font-size="12" text-anchor="middle" fill="#000">240</text>
<line x1="411.73" y1="414.90" x2="411.73" y2="418.90" stroke="#000" stroke-width="1.0" stroke-linecap="butt"/>
<text x="412.83" y="437.80" font-size="12" text-anchor="middle" fill="#000">260</text>
<line x1="434.81" y1="414.90" x2="434.81" y2="418.90" stroke="#000" stroke-width="1.0" stroke-linecap="butt"/>
<text x="434.61" y="437.80" font-size="12" text-anchor="middle" fill="#000">280</text>
<line x1="457.90" y1="414.90" x2="457.90" y2="418.90" stroke="#000" stroke-width="1.0" stroke-linecap="butt"/>
<text x="458.50" y="437.80" font-size="12" text-anchor="middle" fill="#000">300</text>
<line x1="107.40" y1="414.90" x2="111.60" y2="414.90" stroke="#000" stroke-width="1.0" stroke-linecap="butt"/>
<text x="104.30" y="419.30" font-size="12.3" text-anchor="end" fill="#000">0</text>
<line x1="107.40" y1="397.56" x2="111.60" y2="397.56" stroke="#000" stroke-width="1.0" stroke-linecap="butt"/>
<text x="104.30" y="401.96" font-size="12.3" text-anchor="end" fill="#000">20</text>
<line x1="107.40" y1="380.23" x2="111.60" y2="380.23" stroke="#000" stroke-width="1.0" stroke-linecap="butt"/>
<text x="104.30" y="384.63" font-size="12.3" text-anchor="end" fill="#000">40</text>
<line x1="107.40" y1="362.89" x2="111.60" y2="362.89" stroke="#000" stroke-width="1.0" stroke-linecap="butt"/>
<text x="104.30" y="367.29" font-size="12.3" text-anchor="end" fill="#000">60</text>
<line x1="107.40" y1="345.55" x2="111.60" y2="345.55" stroke="#000" stroke-width="1.0" stroke-linecap="butt"/>
<text x="104.30" y="349.95" font-size="12.3" text-anchor="end" fill="#000">80</text>
<line x1="107.40" y1="328.22" x2="111.60" y2="328.22" stroke="#000" stroke-width="1.0" stroke-linecap="butt"/>
<text x="104.30" y="332.62" font-size="12.3" text-anchor="end" fill="#000">100</text>
<line x1="107.40" y1="310.88" x2="111.60" y2="310.88" stroke="#000" stroke-width="1.0" stroke-linecap="butt"/>
<text x="104.30" y="315.28" font-size="12.3" text-anchor="end" fill="#000">120</text>
<line x1="107.40" y1="293.55" x2="111.60" y2="293.55" stroke="#000" stroke-width="1.0" stroke-linecap="butt"/>
<text x="104.30" y="297.95" font-size="12.3" text-anchor="end" fill="#000">140</text>
<line x1="107.40" y1="276.21" x2="111.60" y2="276.21" stroke="#000" stroke-width="1.0" stroke-linecap="butt"/>
<text x="104.30" y="280.61" font-size="12.3" text-anchor="end" fill="#000">160</text>
<line x1="107.40" y1="258.87" x2="111.60" y2="258.87" stroke="#000" stroke-width="1.0" stroke-linecap="butt"/>
<text x="104.30" y="263.27" font-size="12.3" text-anchor="end" fill="#000">180</text>
<line x1="107.40" y1="241.54" x2="111.60" y2="241.54" stroke="#000" stroke-width="1.0" stroke-linecap="butt"/>
<text x="104.30" y="245.94" font-size="12.3" text-anchor="end" fill="#000">200</text>
<line x1="107.40" y1="224.20" x2="111.60" y2="224.20" stroke="#000" stroke-width="1.0" stroke-linecap="butt"/>
<text x="104.30" y="228.60" font-size="12.3" text-anchor="end" fill="#000">220</text>
<line x1="231.60" y1="214.80" x2="231.60" y2="417.30" stroke="#585858" stroke-width="1.8" stroke-linecap="butt"/>
<line x1="103.60" y1="347.90" x2="463.40" y2="347.90" stroke="#000" stroke-width="2.0" stroke-linecap="butt"/>
<text x="120.80" y="240.50" font-size="10.2" text-anchor="start" fill="#111" textLength="25.50" lengthAdjust="spacingAndGlyphs">n= 21</text>
<text x="376.80" y="240.60" font-size="10.2" text-anchor="start" fill="#111" textLength="26.80" lengthAdjust="spacingAndGlyphs">n= 17</text>
<text x="120.80" y="409.40" font-size="10.2" text-anchor="start" fill="#111" textLength="25.00" lengthAdjust="spacingAndGlyphs">n= 11</text>
<text x="384.90" y="408.20" font-size="10.2" text-anchor="start" fill="#111" textLength="19.60" lengthAdjust="spacingAndGlyphs">n= 5</text>
<rect x="377.70" y="266.00" width="71.50" height="48.50" fill="#fff" stroke="#000" stroke-width="1.15"/>
<path d="M387.80 274.30L392.50 279.00L387.80 283.70L383.10 279.00Z" fill="#808080"/>
<rect x="384.40" y="300.20" width="5.60" height="5.60" fill="#000" stroke="none" stroke-width="1"/>
<text x="395.00" y="283.80" font-size="14.7" text-anchor="start" fill="#000" textLength="52.30" lengthAdjust="spacingAndGlyphs">No TEC</text>
<text x="395.00" y="308.00" font-size="14.7" text-anchor="start" fill="#000" textLength="29.40" lengthAdjust="spacingAndGlyphs">TEC</text>
<text x="76.70" y="380.00" font-size="14.2" text-anchor="start" fill="#000" font-weight="bold" textLength="130.90" lengthAdjust="spacingAndGlyphs" transform="rotate(-90 76.70 380.00)">sPselectin (ng/mL)</text>
<text x="260.20" y="481.30" font-size="14.7" text-anchor="start" fill="#000" font-weight="bold" textLength="53.90" lengthAdjust="spacingAndGlyphs">FVII (%)</text>
<text x="-1.70" y="527.40" font-size="26.2" text-anchor="start" fill="#000" font-weight="bold">C</text>
<path d="M174.00 604.30L179.10 609.40L174.00 614.50L168.90 609.40Z" fill="#808080"/>
<path d="M181.70 604.30L186.80 609.40L181.70 614.50L176.60 609.40Z" fill="#808080"/>
<path d="M197.50 610.30L202.60 615.40L197.50 620.50L192.40 615.40Z" fill="#808080"/>
<path d="M229.40 614.20L234.50 619.30L229.40 624.40L224.30 619.30Z" fill="#808080"/>
<path d="M203.80 624.90L208.90 630.00L203.80 635.10L198.70 630.00Z" fill="#808080"/>
<path d="M230.40 628.70L235.50 633.80L230.40 638.90L225.30 633.80Z" fill="#808080"/>
<path d="M182.30 640.90L187.40 646.00L182.30 651.10L177.20 646.00Z" fill="#808080"/>
<path d="M224.00 641.40L229.10 646.50L224.00 651.60L218.90 646.50Z" fill="#808080"/>
<path d="M179.20 647.60L184.30 652.70L179.20 657.80L174.10 652.70Z" fill="#808080"/>
<path d="M205.80 652.40L210.90 657.50L205.80 662.60L200.70 657.50Z" fill="#808080"/>
<path d="M213.50 653.90L218.60 659.00L213.50 664.10L208.40 659.00Z" fill="#808080"/>
<path d="M217.00 652.10L222.10 657.20L217.00 662.30L211.90 657.20Z" fill="#808080"/>
<path d="M182.30 657.20L187.40 662.30L182.30 667.40L177.20 662.30Z" fill="#808080"/>
<path d="M197.50 657.20L202.60 662.30L197.50 667.40L192.40 662.30Z" fill="#808080"/>
<path d="M246.30 652.60L251.40 657.70L246.30 662.80L241.20 657.70Z" fill="#808080"/>
<path d="M162.10 677.00L167.20 682.10L162.10 687.20L157.00 682.10Z" fill="#808080"/>
<path d="M283.70 616.40L288.80 621.50L283.70 626.60L278.60 621.50Z" fill="#808080"/>
<rect x="171.00" y="573.30" width="7.00" height="7.00" fill="#000" stroke="none" stroke-width="1"/>
<rect x="172.00" y="572.30" width="7.00" height="7.00" fill="#000" stroke="none" stroke-width="1"/>
<rect x="211.50" y="588.80" width="7.00" height="7.00" fill="#000" stroke="none" stroke-width="1"/>
<rect x="216.70" y="593.00" width="7.00" height="7.00" fill="#000" stroke="none" stroke-width="1"/>
<rect x="227.90" y="604.00" width="7.00" height="7.00" fill="#000" stroke="none" stroke-width="1"/>
<rect x="241.30" y="611.70" width="7.00" height="7.00" fill="#000" stroke="none" stroke-width="1"/>
<rect x="192.30" y="619.80" width="7.00" height="7.00" fill="#000" stroke="none" stroke-width="1"/>
<rect x="178.20" y="631.00" width="7.00" height="7.00" fill="#000" stroke="none" stroke-width="1"/>
<rect x="206.50" y="632.50" width="7.00" height="7.00" fill="#000" stroke="none" stroke-width="1"/>
<rect x="242.20" y="635.00" width="7.00" height="7.00" fill="#000" stroke="none" stroke-width="1"/>
<rect x="190.30" y="638.50" width="7.00" height="7.00" fill="#000" stroke="none" stroke-width="1"/>
<rect x="212.80" y="638.50" width="7.00" height="7.00" fill="#000" stroke="none" stroke-width="1"/>
<rect x="212.80" y="672.30" width="7.00" height="7.00" fill="#000" stroke="none" stroke-width="1"/>
<rect x="310.90" y="578.00" width="7.00" height="7.00" fill="#000" stroke="none" stroke-width="1"/>
<rect x="274.80" y="609.00" width="7.00" height="7.00" fill="#000" stroke="none" stroke-width="1"/>
<rect x="258.40" y="618.60" width="7.00" height="7.00" fill="#000" stroke="none" stroke-width="1"/>
<rect x="258.40" y="674.60" width="7.00" height="7.00" fill="#000" stroke="none" stroke-width="1"/>
<rect x="356.00" y="612.50" width="7.00" height="7.00" fill="#000" stroke="none" stroke-width="1"/>
<rect x="442.00" y="637.30" width="7.00" height="7.00" fill="#000" stroke="none" stroke-width="1"/>
<line x1="110.30" y1="525.60" x2="457.20" y2="525.60" stroke="#808080" stroke-width="1.1" stroke-linecap="butt"/>
<line x1="457.20" y1="525.60" x2="457.20" y2="714.60" stroke="#808080" stroke-width="1.1" stroke-linecap="butt"/>
<line x1="110.30" y1="525.10" x2="110.30" y2="715.10" stroke="#000" stroke-width="1.1" stroke-linecap="butt"/>
<line x1="110.30" y1="714.60" x2="457.70" y2="714.60" stroke="#000" stroke-width="1.1" stroke-linecap="butt"/>
<line x1="110.30" y1="714.60" x2="110.30" y2="718.60" stroke="#000" stroke-width="1.0" stroke-linecap="butt"/>
<text x="110.10" y="738.00" font-size="12" text-anchor="middle" fill="#000">0</text>
<line x1="133.43" y1="714.60" x2="133.43" y2="718.60" stroke="#000" stroke-width="1.0" stroke-linecap="butt"/>
<text x="133.83" y="738.00" font-size="12" text-anchor="middle" fill="#000">20</text>
<line x1="156.55" y1="714.60" x2="156.55" y2="718.60" stroke="#000" stroke-width="1.0" stroke-linecap="butt"/>
<text x="155.95" y="738.00" font-size="12" text-anchor="middle" fill="#000">40</text>
<line x1="179.68" y1="714.60" x2="179.68" y2="718.60" stroke="#000" stroke-width="1.0" stroke-linecap="butt"/>
<text x="179.68" y="738.00" font-size="12" text-anchor="middle" fill="#000">60</text>
<line x1="202.81" y1="714.60" x2="202.81" y2="718.60" stroke="#000" stroke-width="1.0" stroke-linecap="butt"/>
<text x="203.21" y="738.00" font-size="12" text-anchor="middle" fill="#000">80</text>
<line x1="225.93" y1="714.60" x2="225.93" y2="718.60" stroke="#000" stroke-width="1.0" stroke-linecap="butt"/>
<text x="225.93" y="738.00" font-size="12" text-anchor="middle" fill="#000">100</text>
<line x1="249.06" y1="714.60" x2="249.06" y2="718.60" stroke="#000" stroke-width="1.0" stroke-linecap="butt"/>
<text x="249.96" y="738.00" font-size="12" text-anchor="middle" fill="#000">120</text>
<line x1="272.19" y1="714.60" x2="272.19" y2="718.60" stroke="#000" stroke-width="1.0" stroke-linecap="butt"/>
<text x="273.19" y="738.00" font-size="12" text-anchor="middle" fill="#000">140</text>
<line x1="295.31" y1="714.60" x2="295.31" y2="718.60" stroke="#000" stroke-width="1.0" stroke-linecap="butt"/>
<text x="295.61" y="738.00" font-size="12" text-anchor="middle" fill="#000">160</text>
<line x1="318.44" y1="714.60" x2="318.44" y2="718.60" stroke="#000" stroke-width="1.0" stroke-linecap="butt"/>
<text x="318.74" y="738.00" font-size="12" text-anchor="middle" fill="#000">180</text>
<line x1="341.57" y1="714.60" x2="341.57" y2="718.60" stroke="#000" stroke-width="1.0" stroke-linecap="butt"/>
<text x="342.27" y="738.00" font-size="12" text-anchor="middle" fill="#000">200</text>
<line x1="364.69" y1="714.60" x2="364.69" y2="718.60" stroke="#000" stroke-width="1.0" stroke-linecap="butt"/>
<text x="362.09" y="738.00" font-size="12" text-anchor="middle" fill="#000">220</text>
<line x1="387.82" y1="714.60" x2="387.82" y2="718.60" stroke="#000" stroke-width="1.0" stroke-linecap="butt"/>
<text x="387.52" y="738.00" font-size="12" text-anchor="middle" fill="#000">240</text>
<line x1="410.95" y1="714.60" x2="410.95" y2="718.60" stroke="#000" stroke-width="1.0" stroke-linecap="butt"/>
<text x="411.35" y="738.00" font-size="12" text-anchor="middle" fill="#000">260</text>
<line x1="434.07" y1="714.60" x2="434.07" y2="718.60" stroke="#000" stroke-width="1.0" stroke-linecap="butt"/>
<text x="433.37" y="738.00" font-size="12" text-anchor="middle" fill="#000">280</text>
<line x1="457.20" y1="714.60" x2="457.20" y2="718.60" stroke="#000" stroke-width="1.0" stroke-linecap="butt"/>
<text x="456.80" y="738.00" font-size="12" text-anchor="middle" fill="#000">300</text>
<line x1="106.10" y1="714.60" x2="110.30" y2="714.60" stroke="#000" stroke-width="1.0" stroke-linecap="butt"/>
<text x="103.00" y="719.00" font-size="12.3" text-anchor="end" fill="#000">0</text>
<line x1="106.10" y1="697.42" x2="110.30" y2="697.42" stroke="#000" stroke-width="1.0" stroke-linecap="butt"/>
<text x="103.00" y="701.82" font-size="12.3" text-anchor="end" fill="#000">20</text>
<line x1="106.10" y1="680.24" x2="110.30" y2="680.24" stroke="#000" stroke-width="1.0" stroke-linecap="butt"/>
<text x="103.00" y="684.64" font-size="12.3" text-anchor="end" fill="#000">40</text>
<line x1="106.10" y1="663.05" x2="110.30" y2="663.05" stroke="#000" stroke-width="1.0" stroke-linecap="butt"/>
<text x="103.00" y="667.45" font-size="12.3" text-anchor="end" fill="#000">60</text>
<line x1="106.10" y1="645.87" x2="110.30" y2="645.87" stroke="#000" stroke-width="1.0" stroke-linecap="butt"/>
<text x="103.00" y="650.27" font-size="12.3" text-anchor="end" fill="#000">80</text>
<line x1="106.10" y1="628.69" x2="110.30" y2="628.69" stroke="#000" stroke-width="1.0" stroke-linecap="butt"/>
<text x="103.00" y="633.09" font-size="12.3" text-anchor="end" fill="#000">100</text>
<line x1="106.10" y1="611.51" x2="110.30" y2="611.51" stroke="#000" stroke-width="1.0" stroke-linecap="butt"/>
<text x="103.00" y="615.91" font-size="12.3" text-anchor="end" fill="#000">120</text>
<line x1="106.10" y1="594.33" x2="110.30" y2="594.33" stroke="#000" stroke-width="1.0" stroke-linecap="butt"/>
<text x="103.00" y="598.73" font-size="12.3" text-anchor="end" fill="#000">140</text>
<line x1="106.10" y1="577.15" x2="110.30" y2="577.15" stroke="#000" stroke-width="1.0" stroke-linecap="butt"/>
<text x="103.00" y="581.55" font-size="12.3" text-anchor="end" fill="#000">160</text>
<line x1="106.10" y1="559.96" x2="110.30" y2="559.96" stroke="#000" stroke-width="1.0" stroke-linecap="butt"/>
<text x="103.00" y="564.36" font-size="12.3" text-anchor="end" fill="#000">180</text>
<line x1="106.10" y1="542.78" x2="110.30" y2="542.78" stroke="#000" stroke-width="1.0" stroke-linecap="butt"/>
<text x="103.00" y="547.18" font-size="12.3" text-anchor="end" fill="#000">200</text>
<line x1="106.10" y1="525.60" x2="110.30" y2="525.60" stroke="#000" stroke-width="1.0" stroke-linecap="butt"/>
<text x="103.00" y="530.00" font-size="12.3" text-anchor="end" fill="#000">220</text>
<line x1="228.20" y1="519.10" x2="228.20" y2="721.30" stroke="#585858" stroke-width="1.8" stroke-linecap="butt"/>
<line x1="108.80" y1="647.40" x2="462.70" y2="647.40" stroke="#585858" stroke-width="1.7" stroke-linecap="butt"/>
<line x1="457.20" y1="612.20" x2="462.70" y2="612.20" stroke="#707070" stroke-width="1.2" stroke-linecap="butt"/>
<line x1="101.80" y1="612.20" x2="110.30" y2="612.20" stroke="#505050" stroke-width="1.2" stroke-linecap="butt"/>
<text x="120.80" y="542.00" font-size="10.2" text-anchor="start" fill="#111" textLength="25.50" lengthAdjust="spacingAndGlyphs">n= 16</text>
<text x="382.60" y="542.00" font-size="10.2" text-anchor="start" fill="#111" textLength="26.20" lengthAdjust="spacingAndGlyphs">n= 10</text>
<text x="118.00" y="708.20" font-size="10.2" text-anchor="start" fill="#111" textLength="20.70" lengthAdjust="spacingAndGlyphs">n= 9</text>
<text x="382.90" y="708.20" font-size="10.2" text-anchor="start" fill="#111" textLength="20.70" lengthAdjust="spacingAndGlyphs">n= 2</text>
<rect x="376.80" y="567.80" width="72.40" height="51.60" fill="#fff" stroke="#000" stroke-width="1.15"/>
<path d="M386.90 578.70L391.60 583.40L386.90 588.10L382.20 583.40Z" fill="#808080"/>
<rect x="383.50" y="605.10" width="5.60" height="5.60" fill="#000" stroke="none" stroke-width="1"/>
<text x="394.40" y="586.40" font-size="14.7" text-anchor="start" fill="#000" textLength="52.30" lengthAdjust="spacingAndGlyphs">No TEC</text>
<text x="394.40" y="611.80" font-size="14.7" text-anchor="start" fill="#000" textLength="29.40" lengthAdjust="spacingAndGlyphs">TEC</text>
<text x="74.60" y="684.60" font-size="14.2" text-anchor="start" fill="#000" font-weight="bold" textLength="130.90" lengthAdjust="spacingAndGlyphs" transform="rotate(-90 74.60 684.60)">sPselectin (ng/mL)</text>
<text x="257.70" y="784.30" font-size="14.7" text-anchor="start" fill="#000" font-weight="bold" textLength="53.90" lengthAdjust="spacingAndGlyphs">FVII (%)</text>
</svg></body></html>
